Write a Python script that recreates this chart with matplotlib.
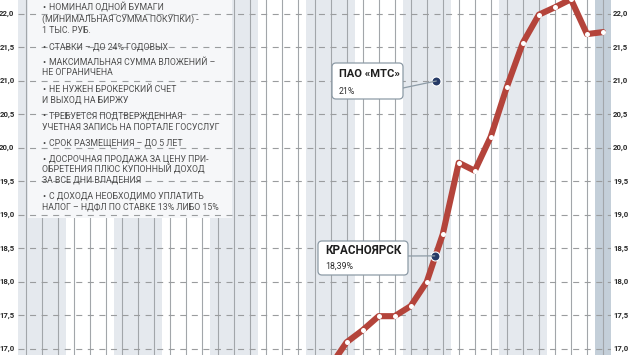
import matplotlib
matplotlib.use("Agg")
import matplotlib.pyplot as plt
from matplotlib.patches import FancyBboxPatch, Rectangle, ConnectionPatch
from matplotlib.transforms import blended_transform_factory
import numpy as np

# ---------------- data ----------------
month_idx = list(range(19, 37))          # month positions (0..36 on the axis)
rates = [16.75, 17.10, 17.28, 17.49, 17.49, 17.64, 18.00, 18.71, 19.78,
         19.66, 20.17, 20.91, 21.57, 21.99, 22.10, 22.22, 21.70, 21.73]
n_months = 37
y_ticks = [17.0, 17.5, 18.0, 18.5, 19.0, 19.5, 20.0, 20.5, 21.0, 21.5, 22.0]
y_tick_labels = ["17,0", "17,5", "18,0", "18,5", "19,0", "19,5", "20,0",
                 "20,5", "21,0", "21,5", "22,0"]

annot_titles = ["ПАО «МТС»", "КРАСНОЯРСК"]
annot_subs = ["21%", "18,39%"]
annot_x = [25.6, 25.5]
annot_values = [21.0, 18.39]

notes = [
    ("• ", "НОМИНАЛ ОДНОЙ БУМАГИ"),
    ("", "(МИНИМАЛЬНАЯ СУММА ПОКУПКИ) -"),
    ("", "1 ТЫС. РУБ."),
    ("• ", "СТАВКИ – ДО 24% ГОДОВЫХ"),
    ("• ", "МАКСИМАЛЬНАЯ СУММА ВЛОЖЕНИЙ –"),
    ("", "НЕ ОГРАНИЧЕНА"),
    ("• ", "НЕ НУЖЕН БРОКЕРСКИЙ СЧЕТ"),
    ("", "И ВЫХОД НА БИРЖУ"),
    ("• ", "ТРЕБУЕТСЯ ПОДТВЕРЖДЕННАЯ"),
    ("", "УЧЕТНАЯ ЗАПИСЬ НА ПОРТАЛЕ ГОСУСЛУГ"),
    ("• ", "СРОК РАЗМЕЩЕНИЯ – ДО 5 ЛЕТ"),
    ("• ", "ДОСРОЧНАЯ ПРОДАЖА ЗА ЦЕНУ ПРИ-"),
    ("", "ОБРЕТЕНИЯ ПЛЮС КУПОННЫЙ ДОХОД"),
    ("", "ЗА ВСЕ ДНИ ВЛАДЕНИЯ"),
    ("• ", "С ДОХОДА НЕОБХОДИМО УПЛАТИТЬ"),
    ("", "НАЛОГ – НДФЛ ПО СТАВКЕ 13% ЛИБО 15%"),
]
note_y = [7.5, 19.5, 30.5, 47, 62.5, 72.5, 89, 99.5, 116, 127, 143, 159, 170, 180.5, 196, 207]

# ---------------- styling ----------------
W, H = 630, 355
NARROW = ["Roboto", "DejaVu Sans"]
RED = "#b4443b"
NAVY = "#263a66"
BAND = "#e5e9ee"
BAND_DARK = "#c4cfd9"
VLINE = "#a2a6aa"
HLINE = "#9a9c9e"
BOXEDGE = "#8d9ba6"


def fx(px):
    return px / W


def fy(py):
    return 1 - py / H


fig = plt.figure(figsize=(W / 100, H / 100), dpi=100)
ax = fig.add_axes([18 / W, 0, 593 / W, 1])
ylim = (22 - (H - 14) / 67, 22 + 14 / 67)
ax.set_xlim(-0.5, n_months - 0.5)
ax.set_ylim(*ylim)
ax.set_xticks([])
ax.set_yticks([])
for s in ax.spines.values():
    s.set_visible(False)

# quarter bands
for q in range(0, n_months - 1, 6):
    ax.axvspan(q - 0.5, q + 2.5, color=BAND, lw=0, zorder=0)
ax.axvspan(n_months - 1.5, n_months - 0.5, color=BAND_DARK, lw=0, zorder=0)

# month lines
for i in range(n_months):
    ax.axvline(i, color=VLINE, lw=0.8, zorder=1)

# text panel
ax.add_patch(Rectangle((fx(28), fy(218)), fx(232) - fx(28), fy(0) - fy(218),
                       transform=fig.transFigure, facecolor="#f6f7f9",
                       edgecolor="none", zorder=2))

# horizontal dashed grid
for y in y_ticks:
    ax.axhline(y, color=HLINE, lw=0.8, ls=(0, (5.4, 5)), zorder=3)

# main line
ax.plot(month_idx, rates, color=RED, lw=4.4, solid_capstyle="round",
        solid_joinstyle="round", zorder=4)
ax.plot(month_idx, rates, "o", ms=3.6, mfc="white", mec="white", mew=0,
        zorder=5)

# y labels on both sides (y from the data scale, x in figure pixels)
tr = blended_transform_factory(fig.transFigure, ax.transData)
for v, lab in zip(y_ticks, y_tick_labels):
    fig.text(fx(14.5), v, lab, transform=tr, fontsize=5.6,
             fontweight="bold", family=NARROW, color="#2a2a2a",
             ha="right", va="center")
    fig.text(fx(613), v, lab, transform=tr, fontsize=5.6,
             fontweight="bold", family=NARROW, color="#2a2a2a",
             ha="left", va="center")

# note texts
for (bullet, txt), y in zip(notes, note_y):
    if bullet:
        fig.text(fx(42), fy(y), "•", fontsize=6.6, color="#454545",
                 family=NARROW, va="center", ha="left")
        fig.text(fx(49), fy(y), txt, fontsize=6.3, color="#505050",
                 family=NARROW, va="center", ha="left")
    else:
        fig.text(fx(42), fy(y), txt, fontsize=6.3, color="#505050",
                 family=NARROW, va="center", ha="left")

# annotation boxes (pixel layout)
boxes = [(332, 63, 403, 99), (318, 241, 408, 275)]
title_y = [74, 250]
sub_y = [91, 266]
title_x = [339, 325]
title_size = [8, 8.4]
conn_from = [(403, 88), (408, 256)]

for k in range(len(annot_titles)):
    x0, y0, x1, y1 = boxes[k]
    r = 4 / W
    patch = FancyBboxPatch((fx(x0), fy(y1)), fx(x1) - fx(x0), fy(y0) - fy(y1),
                           boxstyle=f"round,pad=0,rounding_size={r}",
                           mutation_aspect=W / H, transform=fig.transFigure,
                           facecolor="white", edgecolor=BOXEDGE, lw=0.9,
                           zorder=7)
    fig.add_artist(patch)
    cp = ConnectionPatch(xyA=(fx(conn_from[k][0]), fy(conn_from[k][1])),
                         coordsA=fig.transFigure,
                         xyB=(annot_x[k], annot_values[k]), coordsB=ax.transData,
                         color=BOXEDGE, lw=0.9, zorder=6)
    fig.add_artist(cp)
    fig.text(fx(title_x[k]), fy(title_y[k]), annot_titles[k],
             fontsize=title_size[k], fontweight="bold", color="#1e1e1e",
             family=["Roboto", "DejaVu Sans"], va="center", ha="left", zorder=8)
    fig.text(fx(title_x[k]), fy(sub_y[k]), annot_subs[k], fontsize=6.3,
             color="#2e2e2e", family=NARROW, va="center", ha="left", zorder=8)

ax.plot(annot_x, annot_values, "o", ms=6.5, mfc=NAVY, mec="white", mew=0.8,
        zorder=9)

fig.savefig("out.png", dpi=100)
